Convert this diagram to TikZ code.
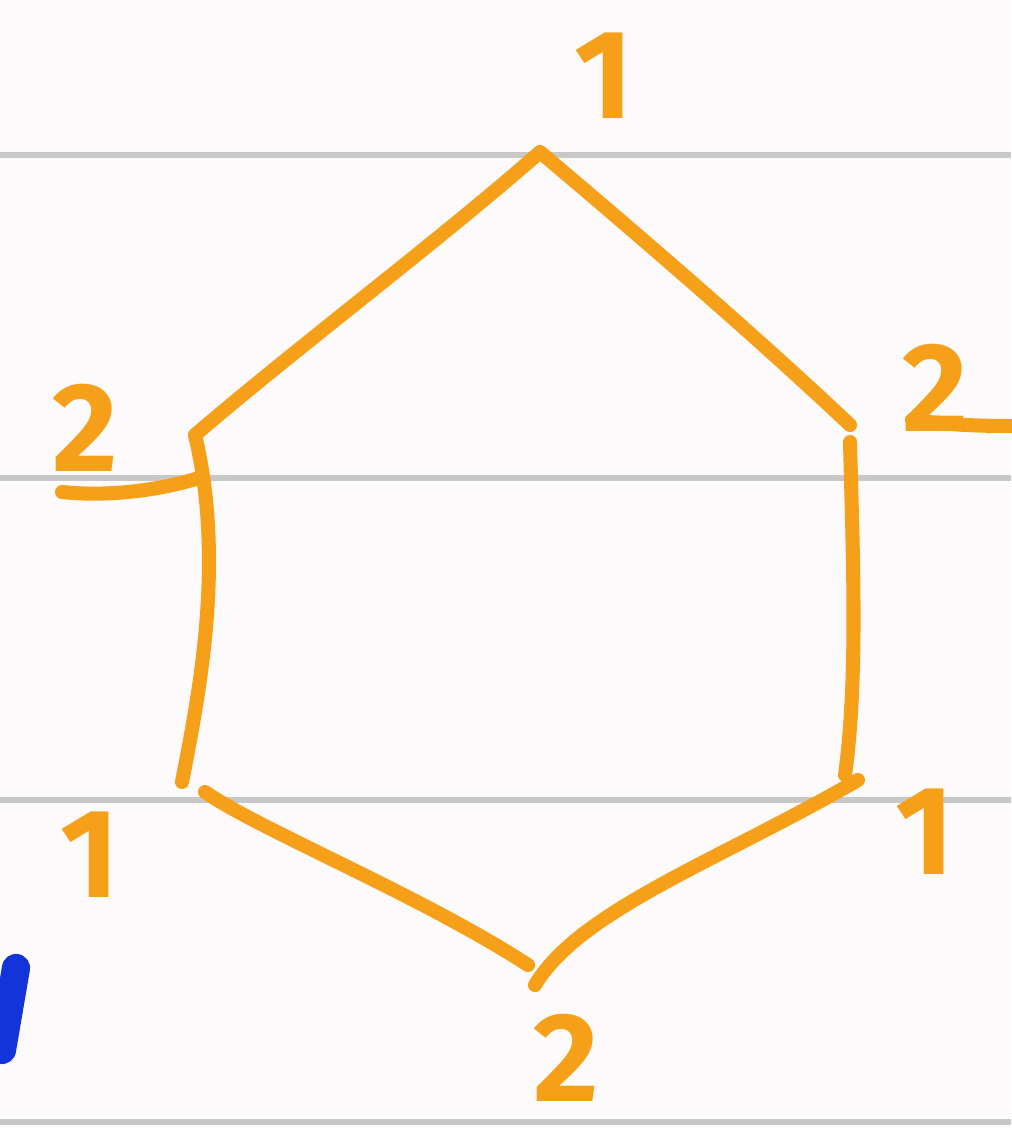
\documentclass[tikz,border=0pt]{standalone}
\usepackage{fontspec}
\setmainfont{Fira Sans}
\definecolor{paper}{HTML}{FDFAFC}
\definecolor{rule}{HTML}{C8C8C8}
\definecolor{ink}{HTML}{F6A01A}
\definecolor{pen}{HTML}{1234D8}
\begin{document}
\begin{tikzpicture}[x=0.01cm,y=-0.01cm,
  edge/.style={draw=ink,line width=4pt,line cap=round,line join=round},
  lab/.style={text=ink,font=\fontsize{36}{36}\selectfont\bfseries},
  ruleline/.style={draw=rule,line width=1.6pt}]
\fill[paper] (0,0) rectangle (1011,1128);
\useasboundingbox (0,0) rectangle (1011,1128);
% ruled lines
\foreach \y in {155,478,800,1122} \draw[ruleline] (0,\y) -- (1011,\y);
% vertices
\coordinate (t) at (540,152);
\coordinate (ur) at (850,425);
\coordinate (ur2) at (850,442);
\coordinate (lr) at (845,775);
\coordinate (lr2) at (858,780);
\coordinate (b1) at (528,965);
\coordinate (b2) at (535,985);
\coordinate (ll2) at (205,792);
\coordinate (ll) at (182,782);
\coordinate (ul) at (195,435);
% edges
\draw[edge] (ul) .. controls (300,345) and (440,240) .. (t) .. controls (650,245) and (760,340) .. (ur);
\draw[edge] (ur2) .. controls (853,560) and (858,680) .. (lr);
\draw[edge] (lr2) .. controls (720,860) and (580,910) .. (b2);
\draw[edge] (b1) .. controls (420,895) and (260,830) .. (ll2);
\draw[edge] (ll) .. controls (200,690) and (225,560) .. (ul);
% labels
\node[lab] (n1) at (604,76) {1};
\node[lab] (n2) at (935,388) {2};
\node[lab] (n3) at (85,428) {2};
\node[lab] (n4) at (90,855) {1};
\node[lab] (n5) at (925,832) {1};
\node[lab] (n6) at (566,1058) {2};
\coordinate (tailA) at (912,420);
\coordinate (tailB) at (1011,426);
\coordinate (tailC) at (62,492);
\coordinate (tailD) at (199,478);
\draw[edge] (tailA) .. controls (950,425) and (980,426) .. (tailB);
\draw[edge] (tailC) .. controls (110,497) and (160,490) .. (tailD);
% blue pen stroke
\coordinate (p1) at (16,968);
\coordinate (p2) at (2,1050);
\draw[pen,line width=8pt,line cap=round] (p1) -- (p2);
\end{tikzpicture}
\end{document}
